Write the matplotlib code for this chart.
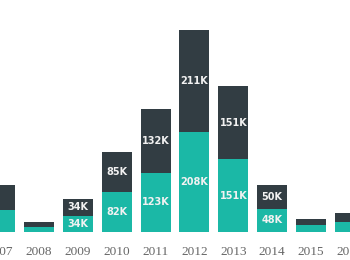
import matplotlib.pyplot as plt
import numpy as np

years = ["2007", "2008", "2009", "2010", "2011", "2012", "2013", "2014", "2015", "2016"]
teal_vals = [46, 10, 34, 82, 123, 208, 151, 48, 14, 20]
dark_vals = [52, 10, 34, 85, 132, 211, 151, 50, 14, 20]
teal_labels = ["", "", "34K", "82K", "123K", "208K", "151K", "48K", "", ""]
dark_labels = ["", "", "34K", "85K", "132K", "211K", "151K", "50K", "", ""]

teal = "#1bb8a6"
dark = "#323d43"

fig = plt.figure(figsize=(3.5, 2.6), dpi=100)
ax = fig.add_axes([0, 28 / 260, 1, 232 / 260])

x = np.arange(len(years))
w = 0.77
ax.bar(x, teal_vals, w, color=teal)
ax.bar(x, dark_vals, w, bottom=teal_vals, color=dark)

# value labels in the middle of each segment
for i in range(len(years)):
    if teal_labels[i]:
        ax.text(x[i], teal_vals[i] / 2, teal_labels[i], ha="center", va="center",
                color="#f2f2f2", fontsize=7, fontweight="bold")
    if dark_labels[i]:
        ax.text(x[i], teal_vals[i] + dark_vals[i] / 2, dark_labels[i], ha="center",
                va="center", color="#f2f2f2", fontsize=7, fontweight="bold")

ax.set_xlim(0.277, 8.711)
ax.set_ylim(0, 232 / 0.482)
ax.set_xticks(x)
ax.set_xticklabels(years, family="Liberation Serif", fontsize=9.5, color="#666666")
ax.tick_params(axis="x", length=0, pad=10)
ax.set_yticks([])
for s in ax.spines.values():
    s.set_visible(False)

fig.savefig("out.png", dpi=100)
